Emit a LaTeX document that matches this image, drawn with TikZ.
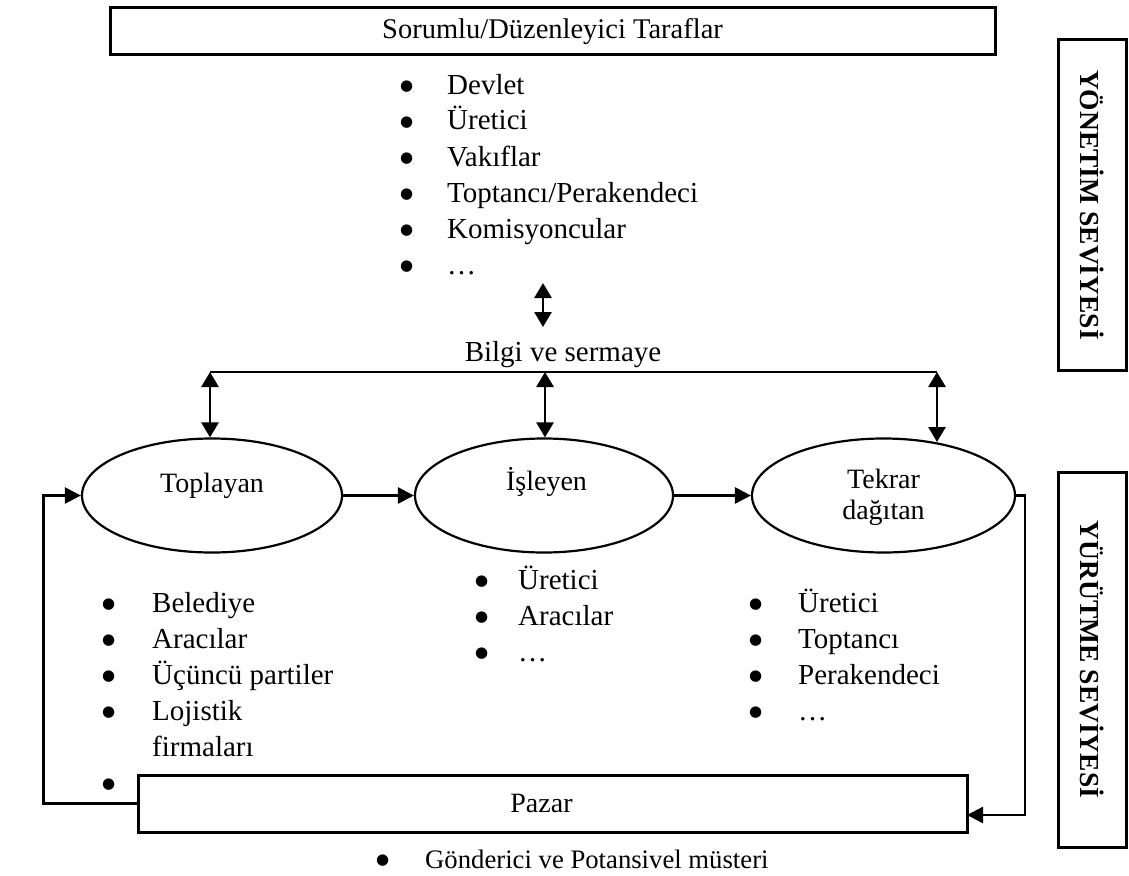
\documentclass[tikz,border=0pt]{standalone}
\usepackage{fontspec}
\setmainfont{Liberation Serif}
\newfontfamily\markfont{DejaVu Sans}
\usetikzlibrary{arrows.meta,shapes.geometric}

% a round list marker, heavier than the serif font's own bullet
\newcommand\dotmark{\raisebox{3.2pt}{\markfont\fontsize{15}{15}\selectfont ●}}

\begin{document}
\begin{tikzpicture}[x=1pt,y=-1pt,
  flow/.style={line width=2.8pt,-{Triangle[length=16pt,width=16pt]}},
  twoway/.style={line width=2.8pt,{Triangle[length=15pt,width=17pt]}-{Triangle[length=15pt,width=17pt]}},
  stage/.style={draw,ellipse,line width=2.2pt,minimum height=114pt,inner sep=0pt},
  frame/.style={draw,line width=3pt,inner sep=0pt},
  lbl/.style={font=\fontsize{28}{31}\selectfont,inner sep=0pt},
  item/.style={font=\fontsize{29}{36}\selectfont,anchor=base west,inner sep=0pt},
  level/.style={font=\bfseries\fontsize{27.5}{30}\selectfont,rotate=-90,inner sep=0pt}
]
\useasboundingbox (0,0) rectangle (1129,875);

% management layer: responsible parties
\node[frame,minimum width=885pt,minimum height=47pt] (resp) at (552.5,31.5) {};
\node[lbl,font=\fontsize{28.5}{31}\selectfont] (respText) at (resp.center) {Sorumlu/Düzenleyici Taraflar};

\node[item] (partyList) at (400,94) {\begin{tabular}[t]{@{}p{47pt}@{}l@{}}
  \dotmark & Devlet\\
  \dotmark & Üretici\\
  \dotmark & Vakıflar\\
  \dotmark & Toptancı/Perakendeci\\
  \dotmark & Komisyoncular\\
  \dotmark & …
\end{tabular}};

% side labels for the two levels
\node[frame,minimum width=68pt,minimum height=330pt] (mgmt) at (1092,205) {};
\node[level] (mgmtText) at (mgmt.center) {YÖNETİM SEVİYESİ};
\node[frame,minimum width=68pt,minimum height=375pt] (exec) at (1092,659.5) {};
\node[level] (execText) at (exec.center) {YÜRÜTME SEVİYESİ};

% information and capital exchange
\coordinate (upA) at (543,283);
\coordinate (upB) at (543,327);
\draw[twoway] (upA) -- (upB);
\node[lbl,anchor=base,font=\fontsize{29}{33}\selectfont] (info) at (563,361) {Bilgi ve sermaye};

\coordinate (linkL) at (210,372);
\coordinate (linkM) at (545,372);
\coordinate (linkR) at (937,372);
\draw[line width=2.2pt] (linkL) -- (linkR);

% execution chain
\node[stage,minimum width=260pt] (topl) at (212,495.5) {};
\node[stage,minimum width=258pt] (isl) at (544,495.5) {};
\node[stage,minimum width=263pt] (tek) at (883.5,495.5) {};

\node[lbl,anchor=base] (toplText) at ([yshift=3.5pt]topl.center) {Toplayan};
\node[lbl,anchor=base] (islText) at ([xshift=2.5pt,yshift=5.5pt]isl.center) {İşleyen};
\node[lbl,anchor=base] (tekText) at ([yshift=7.5pt]tek.center)
  {\begin{tabular}[t]{@{}c@{}}Tekrar\\dağıtan\end{tabular}};

\coordinate (tekTop) at (937,442);
\draw[twoway] (linkL) -- (linkL |- topl.north);
\draw[twoway] (linkM) -- (linkM |- isl.north);
\draw[twoway] (linkR) -- (tekTop);

\draw[flow] (topl.east) -- (isl.west);
\draw[flow] (isl.east) -- (tek.west);

% actors of each stage
\node[item] (collectList) at (102,612) {\begin{tabular}[t]{@{}p{50pt}@{}l@{}}
  \dotmark & Belediye\\
  \dotmark & Aracılar\\
  \dotmark & Üçüncü partiler\\
  \dotmark & Lojistik\\
           & firmaları\\
  \dotmark &
\end{tabular}};

\node[item] (processList) at (475,589) {\begin{tabular}[t]{@{}p{43pt}@{}l@{}}
  \dotmark & Üretici\\
  \dotmark & Aracılar\\
  \dotmark & …
\end{tabular}};

\node[item] (redistList) at (749,612) {\begin{tabular}[t]{@{}p{49pt}@{}l@{}}
  \dotmark & Üretici\\
  \dotmark & Toptancı\\
  \dotmark & Perakendeci\\
  \dotmark & …
\end{tabular}};

% market
\node[frame,minimum width=829pt,minimum height=57pt] (market) at (552.5,803.5) {};
\node[lbl] (marketText) at ([xshift=-11pt]market.center) {Pazar};
\coordinate (mktIn) at (967,815);

\draw[flow,line width=2.4pt] (market.west) -- ++(-93,0) |- (topl.west);
\draw[flow,line width=2.4pt] (tek.east) -- ++(9,0) |- (mktIn);

\node[anchor=base west,font=\fontsize{26.7}{30}\selectfont,inner sep=0pt] (customer) at (376,868)
  {\makebox[49pt][l]{\dotmark}Gönderici ve Potansivel müsteri};
\end{tikzpicture}
\end{document}
